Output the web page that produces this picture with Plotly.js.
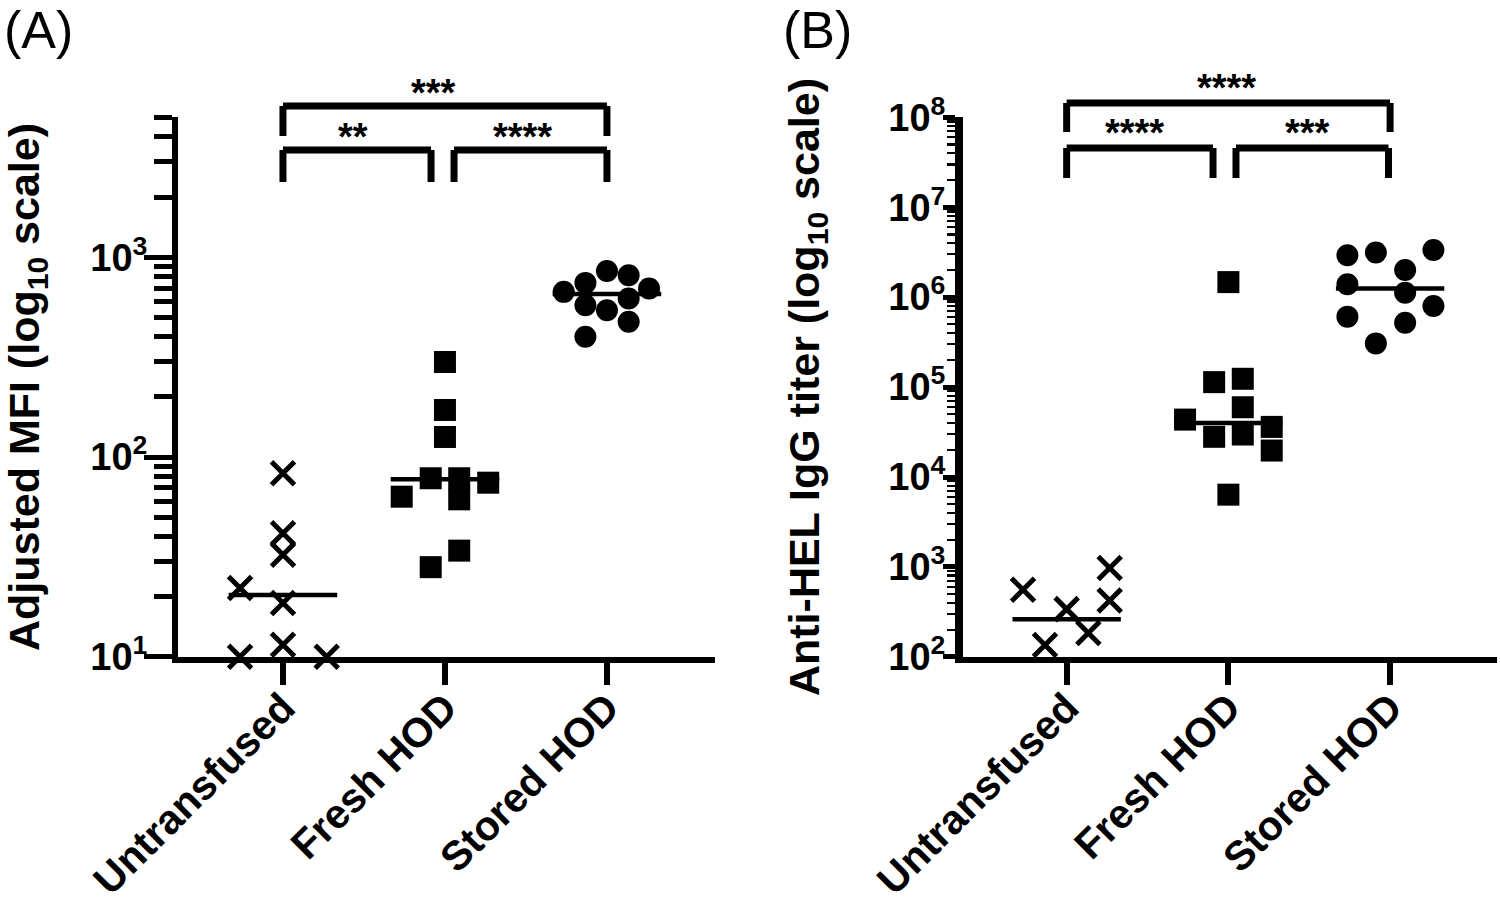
<!DOCTYPE html>
<html>
<head>
<meta charset="utf-8">
<script src="https://cdn.plot.ly/plotly-3.0.1.min.js"></script>
<style>html,body{margin:0;padding:0;background:#fff;}#chart{width:1500px;height:897px;}</style>
</head>
<body>
<div id="chart"></div>
<script>
// ---------- DATA ----------
const categories = ['Untransfused', 'Fresh HOD', 'Stored HOD'];

// Panel A: Adjusted MFI
const mfiUntransfused = [82.9, 41.5, 32.4, 22.1, 18.6, 10, 11.5, 10];
const mfiFresh = [299, 172, 126, 78.3, 78.3, 74.4, 63.3, 61.4, 34.0, 28.1];
const mfiStored = [854, 744, 813, 671, 698, 622, 575, 543, 475, 400];
const mfiMedians = [20.4, 77.5, 655];

// Panel B: Anti-HEL IgG titer
const titerUntransfused = [557, 973, 424, 340, 184, 136];
const titerFresh = [1.47e6, 1.135e5, 1.237e5, 5.97e4, 4.35e4, 2.80e4, 2.97e4, 3.61e4, 1.97e4, 6.37e3];
const titerStored = [2.92e6, 3.13e6, 3.35e6, 2.0e6, 1.39e6, 1.12e6, 7.96e5, 6.07e5, 5.2e5, 3.06e5];
const titerMedians = [263, 4.0e4, 1.25e6];

// y-axis tick labels
const mfiTickVals = [10, 100, 1000];
const mfiTickText = ['10<sup>1</sup>', '10<sup>2</sup>', '10<sup>3</sup>'];
const titerTickVals = [1e2, 1e3, 1e4, 1e5, 1e6, 1e7, 1e8];
const titerTickText = ['10<sup>2</sup>', '10<sup>3</sup>', '10<sup>4</sup>', '10<sup>5</sup>', '10<sup>6</sup>', '10<sup>7</sup>', '10<sup>8</sup>'];

// significance labels
const sigA = ['***', '**', '****'];
const sigB = ['****', '****', '***'];

// ---------- horizontal scatter spread (category units, point layout only) ----------
const spreadAU = [0, 0, 0, -0.265, 0, -0.265, 0, 0.27];
const spreadAF = [0, 0, 0, -0.088, 0.088, 0.267, -0.267, 0.088, 0.088, -0.088];
const spreadAS = [0, -0.133, 0.134, -0.267, 0.26, 0.134, -0.133, 0, 0.134, -0.133];
const spreadBU = [-0.27, 0.266, 0.266, 0, 0.134, -0.134];
const spreadBF = [0, -0.088, 0.089, 0.089, -0.268, -0.088, 0.089, 0.268, 0.268, 0];
const spreadBS = [-0.264, -0.088, 0.268, 0.093, -0.264, 0.093, 0.268, -0.264, 0.093, -0.088];

// ---------- build ----------
const FONT = 'Liberation Sans, Arial, Helvetica, sans-serif';
const black = '#000000';
const plotTop = 117, plotBottom = 657;
function py(p) { return (plotBottom - p) / (plotBottom - plotTop); }

function pointsTrace(catIdx, vals, spread, symbol, xa, ya) {
  const isX = symbol === 'x-thin';
  return {
    type: 'scatter', mode: 'markers', xaxis: xa, yaxis: ya,
    x: vals.map((v, i) => catIdx + spread[i]),
    y: vals,
    cliponaxis: false,
    hoverinfo: 'skip',
    marker: isX
      ? { symbol: 'x-thin', size: 23, color: black, line: { color: black, width: 5 } }
      : { symbol: symbol, size: 22, color: black, line: { width: 0 } }
  };
}
function medianTrace(catIdx, m, xa, ya) {
  return {
    type: 'scatter', mode: 'lines', xaxis: xa, yaxis: ya,
    x: [catIdx - 0.335, catIdx + 0.335], y: [m, m],
    line: { color: black, width: 4.5 }, hoverinfo: 'skip', cliponaxis: false
  };
}

const traces = [];
mfiMedians.forEach((m, i) => traces.push(medianTrace(i, m, 'x', 'y')));
titerMedians.forEach((m, i) => traces.push(medianTrace(i, m, 'x2', 'y2')));
traces.push(pointsTrace(0, mfiUntransfused, spreadAU, 'x-thin', 'x', 'y'));
traces.push(pointsTrace(1, mfiFresh, spreadAF, 'square', 'x', 'y'));
traces.push(pointsTrace(2, mfiStored, spreadAS, 'circle', 'x', 'y'));
traces.push(pointsTrace(0, titerUntransfused, spreadBU, 'x-thin', 'x2', 'y2'));
traces.push(pointsTrace(1, titerFresh, spreadBF, 'square', 'x2', 'y2'));
traces.push(pointsTrace(2, titerStored, spreadBS, 'circle', 'x2', 'y2'));

// minor tick values (2..9 in each decade)
function minorVals(lo, hi, maxV) {
  const out = [];
  for (let e = lo; e < hi; e++) for (let k = 2; k <= 9; k++) { const v = k * Math.pow(10, e); if (v <= maxV) out.push(v); }
  return out;
}

// brackets: [x0, x1, yBarPx, yLegEndPx]
const bracketsA = [[0, 2, 106, 136], [0, 0.914, 150, 182], [1.056, 2, 150, 182]];
const bracketsB = [[0, 2, 103, 132], [0, 0.905, 148, 178], [1.047, 1.99, 148, 178]];
const starPosA = [[0.932, 88], [0.432, 132], [1.481, 132]];
const starPosB = [[0.991, 83], [0.422, 128], [1.492, 128]];

const shapes = [];
function addBracket(b, xref) {
  const ln = { color: black, width: 7 };
  shapes.push({ type: 'line', xref: xref, yref: 'paper', x0: b[0], x1: b[1], y0: py(b[2]), y1: py(b[2]), line: ln });
  shapes.push({ type: 'line', xref: xref, yref: 'paper', x0: b[0], x1: b[0], y0: py(b[2]), y1: py(b[3]), line: ln });
  shapes.push({ type: 'line', xref: xref, yref: 'paper', x0: b[1], x1: b[1], y0: py(b[2]), y1: py(b[3]), line: ln });
}
bracketsA.forEach(b => addBracket(b, 'x'));
bracketsB.forEach(b => addBracket(b, 'x2'));

const annotations = [];
function addStar(txt, pos, xref) {
  annotations.push({ xref: xref, yref: 'paper', x: pos[0], y: py(pos[1] + 5), text: '<b>' + txt + '</b>',
    showarrow: false, xanchor: 'center', yanchor: 'middle', font: { family: FONT, size: 38, color: black } });
}
sigA.forEach((t, i) => addStar(t, starPosA[i], 'x'));
sigB.forEach((t, i) => addStar(t, starPosB[i], 'x2'));
annotations.push({ xref: 'paper', yref: 'paper', x: (2 - 178) / 1319, y: py(30), text: '(A)', showarrow: false,
  xanchor: 'left', yanchor: 'middle', font: { family: FONT, size: 52, color: black } });
annotations.push({ xref: 'paper', yref: 'paper', x: (781 - 178) / 1319, y: py(30), text: '(B)', showarrow: false,
  xanchor: 'left', yanchor: 'middle', font: { family: FONT, size: 52, color: black } });

const catFont = { family: FONT, size: 41, color: black, weight: 'bold' };
const tickFont = { family: FONT, size: 38, color: black, weight: 'bold' };
const titleFont = { family: FONT, size: 43, color: black, weight: 'bold' };

function xAxis(domain, range, anchor) {
  return {
    domain: domain, range: range, anchor: anchor, tickvals: [0, 1, 2], ticktext: categories, tickangle: -45,
    ticks: 'outside', ticklen: 22, tickwidth: 6, tickcolor: black, ticklabelstandoff: -18,
    showline: true, linewidth: 6, linecolor: black, zeroline: false, showgrid: false,
    tickfont: catFont, fixedrange: true
  };
}
function yAxis(range, tv, tt, minor, anchor, title, standoff) {
  return {
    type: 'log', range: range, anchor: anchor, tickvals: tv, ticktext: tt,
    ticks: 'outside', ticklen: 28, tickwidth: 5, tickcolor: black, ticklabelstandoff: -11,
    minor: { tickmode: 'array', tickvals: minor, ticks: 'outside', ticklen: 18, tickwidth: 5, tickcolor: black },
    showline: true, linewidth: 6, linecolor: black, zeroline: false, showgrid: false,
    tickfont: tickFont, title: { text: title, font: titleFont, standoff: standoff }, fixedrange: true
  };
}

const minorA = minorVals(1, 4, 5000);
const minorB = minorVals(2, 8, 1e8);
const yA = yAxis([1 - 0.001, Math.log10(5000) + 0.003], mfiTickVals, mfiTickText, minorA, 'x', 'Adjusted MFI (log<sub>10</sub> scale)', 44);
const yB = yAxis([2 - 0.001, 8 + 0.003], titerTickVals, titerTickText, minorB, 'x2', 'Anti-HEL IgG titer (log<sub>10</sub> scale)', 58);
yB.ticklen = 12; yB.minor.tickwidth = 2.5; yB.minor.ticklen = 8; yB.linewidth = 8; yB.ticklabelstandoff = -10;

const layout = {
  width: 1500, height: 897,
  margin: { l: 178, r: 3, t: plotTop, b: 897 - plotBottom },
  paper_bgcolor: '#ffffff', plot_bgcolor: '#ffffff',
  showlegend: false,
  font: { family: FONT, color: black },
  xaxis: xAxis([0, (715 - 178) / 1319], [-0.648, 2.667], 'y'),
  yaxis: yA,
  xaxis2: xAxis([(963 - 178) / 1319, 1], [-0.641, 2.661], 'y2'),
  yaxis2: yB,
  shapes: shapes,
  annotations: annotations
};

Plotly.newPlot('chart', traces, layout, { displayModeBar: false, staticPlot: true });
</script>
</body>
</html>
